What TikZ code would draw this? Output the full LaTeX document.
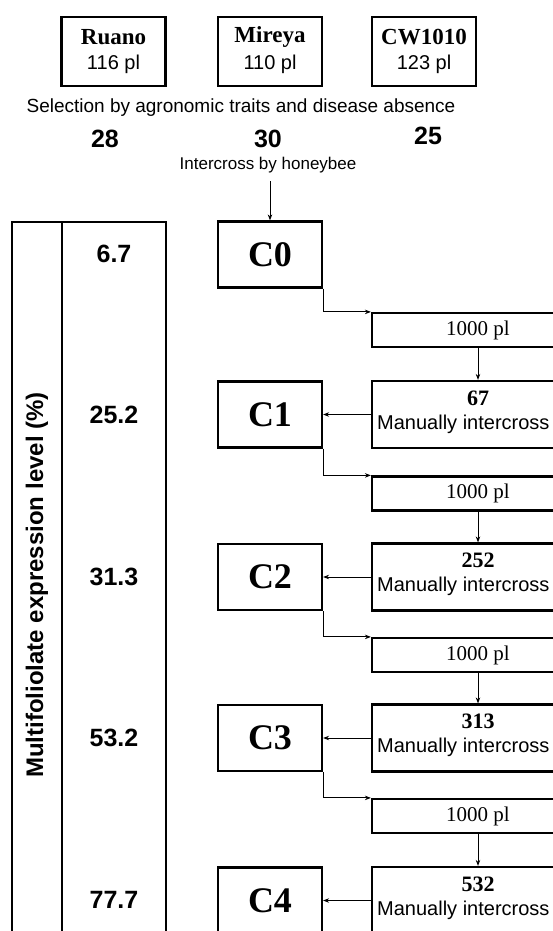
\documentclass[tikz,border=0pt]{standalone}
\usepackage{fontspec}
\setmainfont{Liberation Serif}
\setsansfont{Liberation Sans}
\usetikzlibrary{arrows.meta}
\begin{document}
\begin{tikzpicture}[x=1pt,y=-1pt,
  box/.style={draw, line width=2.2pt, inner sep=0pt, fill=white},
  topbox/.style={box, minimum width=104pt, minimum height=69pt},
  cbox/.style={box, minimum width=104pt, minimum height=66pt,
    font=\fontsize{36}{40}\selectfont\rmfamily\bfseries},
  plbox/.style={box, minimum width=212pt, minimum height=34pt,
    font=\fontsize{21}{24}\selectfont\rmfamily},
  mbox/.style={box, minimum width=212pt, minimum height=67pt},
  conn/.style={line width=0.9pt, -{Stealth[length=6pt,width=4.5pt]}},
  vname/.style={font=\fontsize{23}{26}\selectfont\rmfamily\bfseries, inner sep=0pt},
  vpl/.style={font=\fontsize{20}{24}\selectfont\sffamily, inner sep=0pt},
  bignum/.style={font=\fontsize{25}{28}\selectfont\sffamily\bfseries, inner sep=0pt},
  mnum/.style={font=\fontsize{22}{24}\selectfont\rmfamily\bfseries, inner sep=0pt},
  mtext/.style={font=\fontsize{20}{24}\selectfont\sffamily, inner sep=0pt, anchor=west},
  note/.style={font=\fontsize{19}{22}\selectfont\sffamily, inner sep=0pt}
]
\useasboundingbox (0,0) rectangle (553,931);
\clip (0,0) rectangle (553,931);

% top varieties
\node[topbox] (ruano) at (113.5,51.5) {};
\node[topbox] (mireya) at (270,51.5) {};
\node[topbox] (cw) at (424,51.5) {};
\node[vname] (ruanoA) at (113.5,37) {Ruano};
\node[vpl] (ruanoB) at (113.5,64) {116 pl};
\node[vname] (mireyaA) at (270,37) {Mireya};
\node[vpl] (mireyaB) at (270,64) {110 pl};
\node[vname] (cwA) at (424,37) {CW1010};
\node[vpl] (cwB) at (424,64) {123 pl};

\node[note] (sel) at (241,108) {Selection by agronomic traits and disease absence};
\node[bignum] (n28) at (105,139) {28};
\node[bignum] (n30) at (268,139) {30};
\node[bignum] (n25) at (428,136) {25};
\node[note, font=\fontsize{17}{20}\selectfont\sffamily] (bee) at (268,165) {Intercross by honeybee};
\coordinate (beearrow) at (270,181);

% left column
\draw[line width=2.2pt] (12,222) rectangle (166,945);
\draw[line width=2.2pt] (62,222) -- (62,945);
\node[rotate=90, font=\fontsize{24}{28}\selectfont\sffamily\bfseries, inner sep=0pt] (ylab) at (37,585) {Multifoliolate expression level (\%)};
\node[bignum] (p0) at (114,254) {6.7};
\node[bignum] (p1) at (114,415) {25.2};
\node[bignum] (p2) at (114,577) {31.3};
\node[bignum] (p3) at (114,738) {53.2};
\node[bignum] (p4) at (114,900) {77.7};

% cycles
\node[cbox] (c0) at (270,254.5) {C0};
\node[cbox] (c1) at (270,414.5) {C1};
\node[cbox] (c2) at (270,577) {C2};
\node[cbox] (c3) at (270,738) {C3};
\node[cbox] (c4) at (270,900.5) {C4};

\node[plbox] (pl1) at (478,330) {1000 pl};
\node[plbox] (pl2) at (478,493.5) {1000 pl};
\node[plbox] (pl3) at (478,655) {1000 pl};
\node[plbox] (pl4) at (478,816) {1000 pl};

\node[mbox] (m1) at (478,414.5) {};
\node[mbox] (m2) at (478,577) {};
\node[mbox] (m3) at (478,738) {};
\node[mbox] (m4) at (478,900.5) {};

\node[mnum] (m1a) at (478,398) {67};
\node[mtext] (m1b) at (377,424) {Manually intercross};
\node[mnum] (m2a) at (478,560.5) {252};
\node[mtext] (m2b) at (377,586.5) {Manually intercross};
\node[mnum] (m3a) at (478,721.5) {313};
\node[mtext] (m3b) at (377,747.5) {Manually intercross};
\node[mnum] (m4a) at (478,884) {532};
\node[mtext] (m4b) at (377,910) {Manually intercross};

% connectors
\draw[conn] (beearrow) -- (c0.north);
\draw[conn] (c0.south east) |- (pl1.north west);
\draw[conn] (c1.south east) |- (pl2.north west);
\draw[conn] (c2.south east) |- (pl3.north west);
\draw[conn] (c3.south east) |- (pl4.north west);
\draw[conn] (pl1.south) -- (m1.north);
\draw[conn] (pl2.south) -- (m2.north);
\draw[conn] (pl3.south) -- (m3.north);
\draw[conn] (pl4.south) -- (m4.north);
\draw[conn] (m1.west) -- (c1.east);
\draw[conn] (m2.west) -- (c2.east);
\draw[conn] (m3.west) -- (c3.east);
\draw[conn] (m4.west) -- (c4.east);
\end{tikzpicture}
\end{document}
